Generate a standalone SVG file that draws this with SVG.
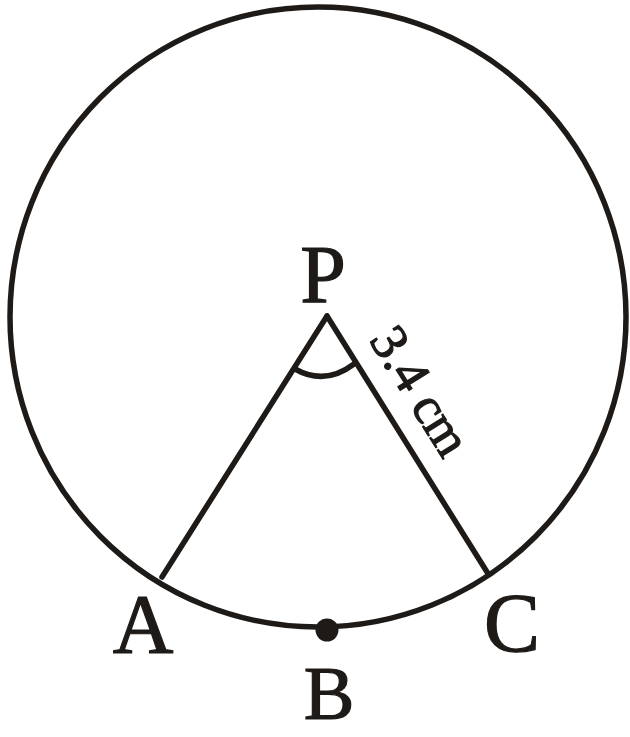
<svg xmlns="http://www.w3.org/2000/svg" width="630" height="737" viewBox="0 0 630 737">
<style>
.ln{fill:none;stroke:#1e1a17;stroke-width:5.5;stroke-linecap:round}
.lb{font-family:"Liberation Serif","Times New Roman",serif;fill:#1e1a17;stroke:#1e1a17;stroke-width:1.2;text-anchor:middle}
</style>
<rect width="630" height="737" fill="#fff"/>
<g id="circle"><ellipse class="ln" cx="318" cy="317" rx="308" ry="310"/></g>
<g id="connectors">
<line class="ln" x1="327" y1="316" x2="162" y2="577"/>
<line class="ln" x1="327" y1="316" x2="487" y2="572"/>
<path class="ln" d="M295,369 Q325,386 354,364" stroke-width="4.5"/>
</g>
<g id="P"><text class="lb" x="323" y="302" font-size="82">P</text></g>
<g id="A"><text class="lb" x="143" y="653" font-size="84">A</text></g>
<g id="B"><circle cx="327" cy="630" r="11.5" fill="#1e1a17"/><text class="lb" x="329" y="719" font-size="76">B</text></g>
<g id="C"><text class="lb" x="512" y="652" font-size="84">C</text></g>
<g id="label"><text class="lb" font-size="52" transform="translate(406,400) rotate(58)">3.4 cm</text></g>
</svg>
